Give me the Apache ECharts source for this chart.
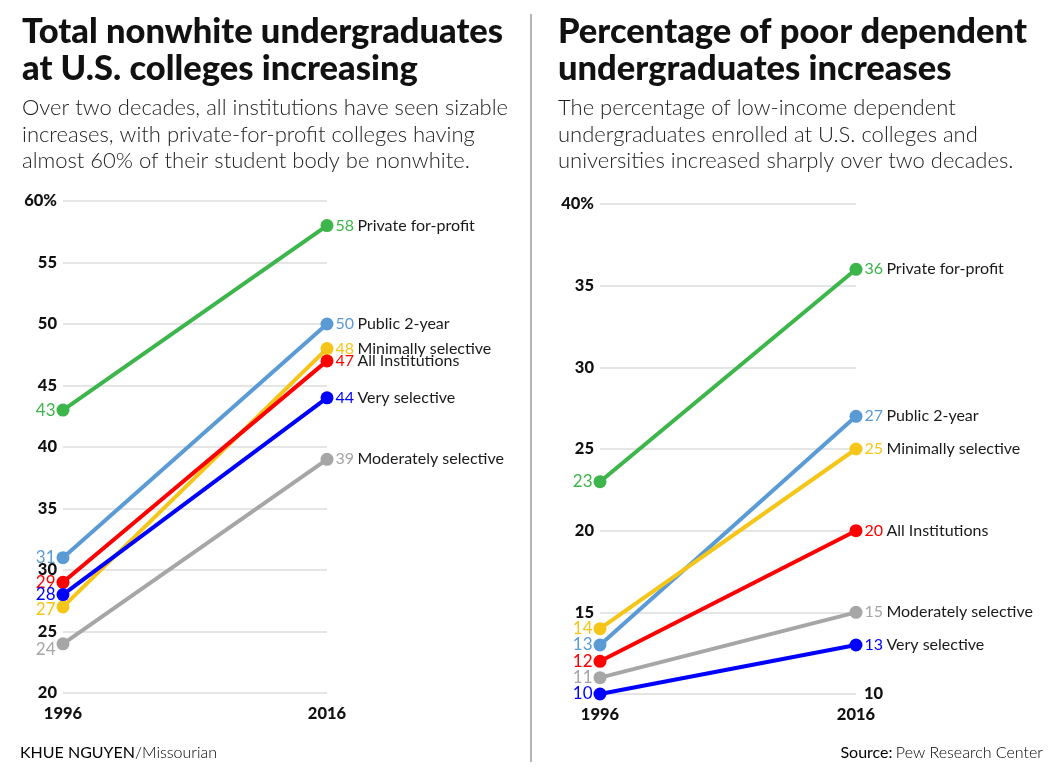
<!DOCTYPE html>
<html>
<head>
<meta charset="utf-8">
<title>Nonwhite and low-income undergraduates</title>
<script src="https://cdn.jsdelivr.net/npm/echarts/dist/echarts.min.js"></script>
<style>
  html, body { margin: 0; padding: 0; background: #fff; }
  #chart { width: 1060px; height: 770px; }
</style>
</head>
<body>
<div id="chart"></div>
<script>
// data
const years = ['1996', '2016'];
const groups = ['Private for-profit', 'Public 2-year', 'Minimally selective',
  'All Institutions', 'Very selective', 'Moderately selective'];
const nonwhite1996 = [43, 31, 27, 29, 28, 24];
const nonwhite2016 = [58, 50, 48, 47, 44, 39];
const poor1996 = [23, 13, 14, 12, 10, 11];
const poor2016 = [36, 27, 25, 20, 13, 15];
const nonwhiteTicks = { min: 20, max: 60, step: 5 };
const poorTicks = { min: 10, max: 40, step: 5 };

const colors = ['#3cb54a', '#5b9bd5', '#f5c518', '#ff0000', '#0000ff', '#a6a6a6'];
const FONT = 'Lato, "Open Sans", sans-serif';

// nudge a few crowded start labels so they don't sit on each other
const startNudge = { 0: { 'Minimally selective': [0, 3], 'Moderately selective': [0, 6] } };

function makeSeries(start, end, grid) {
  return groups.map((name, i) => ({
    type: 'line',
    name: name,
    xAxisIndex: grid,
    yAxisIndex: grid === 0 ? 0 : 1,
    symbol: 'circle',
    symbolSize: 13,
    lineStyle: { width: 4, color: colors[i] },
    itemStyle: { color: colors[i] },
    emphasis: { disabled: true },
    data: [
      {
        value: start[i],
        label: {
          show: true, position: 'left', distance: 1,
          formatter: '{c}', color: colors[i],
          fontFamily: FONT, fontSize: 17,
          offset: (startNudge[grid] && startNudge[grid][name]) || [0, 0]
        }
      },
      {
        value: end[i],
        label: {
          show: true, position: 'right', distance: 2,
          formatter: '{v|' + end[i] + '} {n|' + name + '}',
          rich: {
            v: { color: colors[i], fontFamily: FONT, fontSize: 16 },
            n: { color: '#1a1a1a', fontFamily: FONT, fontSize: 16 }
          }
        }
      }
    ]
  }));
}

function valueAxis(grid, t, opts) {
  return Object.assign({
    type: 'value', gridIndex: grid,
    min: t.min, max: t.max, interval: t.step,
    axisLine: { show: false }, axisTick: { show: false },
    splitLine: { lineStyle: { color: '#dcdcdc', width: 1.5 } },
    axisLabel: {
      margin: 6, color: '#111', fontFamily: FONT, fontWeight: 900, fontSize: 16.5,
      formatter: v => v === t.max ? v + '%' : String(v)
    }
  }, opts || {});
}

function catAxis(grid) {
  return {
    type: 'category', gridIndex: grid, data: years, boundaryGap: false,
    axisLine: { show: false }, axisTick: { show: false }, splitLine: { show: false },
    axisLabel: { margin: 12, color: '#111', fontFamily: FONT, fontWeight: 900, fontSize: 16.5 }
  };
}

const titleStyle = { fontFamily: FONT, fontSize: 34.5, fontWeight: 900, color: '#111', lineHeight: 37 };
const subStyle = { fontFamily: FONT, fontSize: 22, fontWeight: 300, color: '#222', lineHeight: 26.5 };

const chart = echarts.init(document.getElementById('chart'));
chart.setOption({
  animation: false,
  backgroundColor: '#fff',
  title: [
    {
      left: 17, top: 8, itemGap: 8,
      text: 'Total nonwhite undergraduates\nat U.S. colleges increasing',
      subtext: 'Over two decades, all institutions have seen sizable\nincreases, with private-for-profit colleges having\nalmost 60% of their student body be nonwhite.',
      textStyle: titleStyle, subtextStyle: subStyle
    },
    {
      left: 553, top: 8, itemGap: 8,
      text: 'Percentage of poor dependent\nundergraduates increases',
      subtext: 'The percentage of low-income dependent\nundergraduates enrolled at U.S. colleges and\nuniversities increased sharply over two decades.',
      textStyle: titleStyle, subtextStyle: subStyle
    }
  ],
  grid: [
    { left: 63, top: 201, width: 264, height: 492 },
    { left: 600, top: 204, width: 256, height: 490 }
  ],
  xAxis: [catAxis(0), catAxis(1)],
  yAxis: [
    valueAxis(0, nonwhiteTicks),
    valueAxis(1, poorTicks, {
      axisLabel: {
        margin: 6, color: '#111', fontFamily: FONT, fontWeight: 900, fontSize: 16.5,
        formatter: v => v === poorTicks.min ? '' : (v === poorTicks.max ? v + '%' : String(v))
      }
    }),
    // the bottom tick of the right panel is labelled on the right side
    valueAxis(1, poorTicks, {
      position: 'right',
      splitLine: { show: false },
      axisLabel: {
        margin: 8, color: '#111', fontFamily: FONT, fontWeight: 900, fontSize: 16.5,
        formatter: v => v === poorTicks.min ? String(v) : ''
      }
    })
  ],
  series: makeSeries(nonwhite1996, nonwhite2016, 0).concat(makeSeries(poor1996, poor2016, 1)),
  graphic: [
    {
      type: 'line', silent: true,
      shape: { x1: 531, y1: 14, x2: 531, y2: 762 },
      style: { stroke: '#b5b5b5', lineWidth: 2 }
    },
    {
      type: 'text', left: 20, top: 745, silent: true,
      style: {
        text: '{a|KHUE NGUYEN}{b|/Missourian}',
        rich: {
          a: { fontFamily: FONT, fontSize: 16, color: '#333' },
          b: { fontFamily: FONT, fontSize: 16, fontWeight: 300, color: '#333' }
        }
      }
    },
    {
      type: 'text', right: 17, top: 745, silent: true,
      style: {
        text: '{a|Source:} {b|Pew Research Center}',
        rich: {
          a: { fontFamily: FONT, fontSize: 16, color: '#333' },
          b: { fontFamily: FONT, fontSize: 16, fontWeight: 300, color: '#333' }
        }
      }
    }
  ]
});
</script>
</body>
</html>
